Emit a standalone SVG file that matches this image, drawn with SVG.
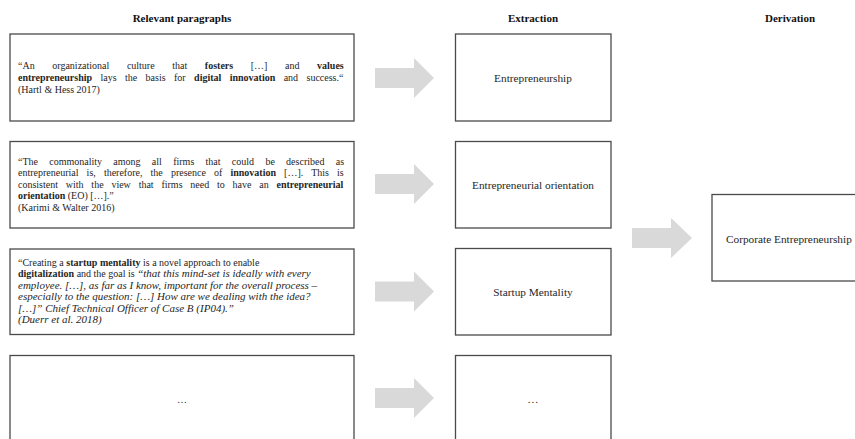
<svg xmlns="http://www.w3.org/2000/svg" width="855" height="439" viewBox="0 0 855 439">
  <style>
    .box { fill: #ffffff; stroke: #4a4a4a; stroke-width: 1.3; }
    .head { font-family: "Liberation Serif", "Times New Roman", serif; font-size: 11px; font-weight: bold; fill: #111; text-anchor: middle; }
    .body { font-family: "Liberation Serif", "Times New Roman", serif; font-size: 10px; fill: #262626; }
    .label { font-family: "Liberation Serif", "Times New Roman", serif; font-size: 11.3px; fill: #262626; text-anchor: middle; }
    .label-left { font-family: "Liberation Serif", "Times New Roman", serif; font-size: 11.3px; fill: #262626; text-anchor: start; }
    .mid { text-anchor: middle; }
    .b { font-weight: bold; }
    .i { font-style: italic; font-size: 11px; }
    .arrow { fill: #d9d9d9; }
  </style>

  <rect width="855" height="439" fill="#ffffff"/>

  <!-- column headings -->
  <g id="headings">
    <text class="head" x="182" y="22">Relevant paragraphs</text>
    <text class="head" x="533" y="22">Extraction</text>
    <text class="head" x="790" y="22">Derivation</text>
  </g>

  <!-- source paragraphs -->
  <g id="para-hartl-hess">
    <rect class="box" x="10" y="34" width="344" height="87"/>
    <text class="body" x="18" y="68.5" style="word-spacing:15.1px">“An organizational culture that <tspan class="b">fosters</tspan> […] and <tspan class="b">values</tspan></text>
    <text class="body" x="18" y="80.5" style="word-spacing:5.9px"><tspan class="b">entrepreneurship</tspan> lays the basis for <tspan class="b">digital innovation</tspan> and success.“</text>
    <text class="body" x="18" y="92.5">(Hartl &amp; Hess 2017)</text>
  </g>

  <g id="para-karimi-walter">
    <rect class="box" x="10" y="141.5" width="344" height="86.5"/>
    <text class="body" x="18" y="164.5" style="word-spacing:8.8px">“The commonality among all firms that could be described as</text>
    <text class="body" x="18" y="176" style="word-spacing:5.6px">entrepreneurial is, therefore, the presence of <tspan class="b">innovation</tspan> […]. This is</text>
    <text class="body" x="18" y="187.5" style="word-spacing:5.3px">consistent with the view that firms need to have an <tspan class="b">entrepreneurial</tspan></text>
    <text class="body" x="18" y="199"><tspan class="b">orientation</tspan> (EO) […].”</text>
    <text class="body" x="18" y="210.5">(Karimi &amp; Walter 2016)</text>
  </g>

  <g id="para-duerr">
    <rect class="box" x="10" y="249" width="344" height="85.5"/>
    <text class="body" x="18" y="265.5">“Creating a <tspan class="b">startup mentality</tspan> is a novel approach to enable</text>
    <text class="body" x="18" y="277"><tspan class="b">digitalization</tspan> and the goal is <tspan class="i">“that this mind-set is ideally with every</tspan></text>
    <text class="body i" x="18" y="288.5">employee. […], as far as I know, important for the overall process –</text>
    <text class="body i" x="18" y="300">especially to the question: […] How are we dealing with the idea?</text>
    <text class="body i" x="18" y="311.5">[…]” Chief Technical Officer of Case B (IP04).”</text>
    <text class="body i" x="18" y="323">(Duerr et al. 2018)</text>
  </g>

  <g id="para-more">
    <rect class="box" x="10" y="355.5" width="344" height="95"/>
    <text class="body mid" x="182" y="403">…</text>
  </g>

  <!-- extracted concepts -->
  <g id="ext-entrepreneurship">
    <rect class="box" x="455.5" y="34" width="155.5" height="87"/>
    <text class="label" x="533" y="81.5">Entrepreneurship</text>
  </g>
  <g id="ext-orientation">
    <rect class="box" x="455.5" y="141.5" width="155.5" height="86.5"/>
    <text class="label" x="533" y="189">Entrepreneurial orientation</text>
  </g>
  <g id="ext-startup">
    <rect class="box" x="455.5" y="248.5" width="155.5" height="86.5"/>
    <text class="label" x="533" y="295.5">Startup Mentality</text>
  </g>
  <g id="ext-more">
    <rect class="box" x="455.5" y="355.5" width="155.5" height="95"/>
    <text class="label" x="533" y="403">…</text>
  </g>

  <!-- derived construct -->
  <g id="der-corporate">
    <rect class="box" x="712" y="194.5" width="160" height="86.5"/>
    <text class="label-left" x="726" y="242.5">Corporate Entrepreneurship</text>
  </g>

  <!-- block arrows -->
  <g id="connectors">
    <polygon class="arrow" points="375,68 414,68 414,58 434,78 414,98 414,88 375,88"/>
    <polygon class="arrow" points="375,174 414,174 414,164 434,184 414,204 414,194 375,194"/>
    <polygon class="arrow" points="375,281.5 414,281.5 414,271.5 434,291.5 414,311.5 414,301.5 375,301.5"/>
    <polygon class="arrow" points="375,388 414,388 414,378 434,398 414,418 414,408 375,408"/>
    <polygon class="arrow" points="632,228 671,228 671,218 692,238 671,258 671,248 632,248"/>
  </g>
</svg>
